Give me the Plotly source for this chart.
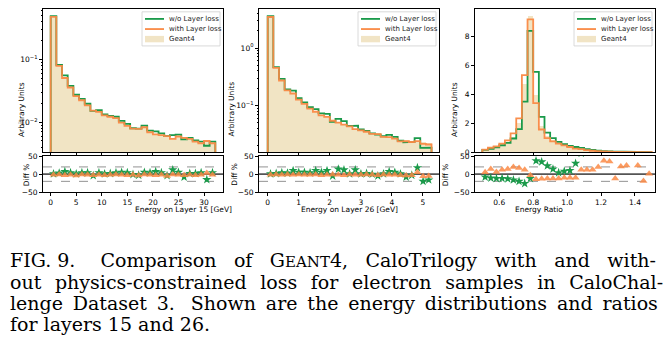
import numpy as np
import plotly.graph_objects as go

# ---------------- data ----------------
# Panel 1: energy on layer 15 [GeV]
l15_range = (0.0, 32.2)
l15_geant = [0.49, 0.080, 0.0524, 0.0365, 0.0271, 0.0226, 0.0189, 0.0158, 0.0149, 0.0132,
             0.0124, 0.0117, 0.0100, 0.0090, 0.0081, 0.0081, 0.0084, 0.0070, 0.0066, 0.0063,
             0.0063, 0.0055, 0.0060, 0.0058, 0.0055, 0.0050, 0.0047, 0.0049, 0.0047]
l15_wo = [0.495, 0.0824, 0.0561, 0.0380, 0.0274, 0.0235, 0.0197, 0.0152, 0.0155, 0.0133,
          0.0126, 0.0122, 0.0105, 0.0094, 0.0080, 0.0079, 0.0088, 0.0073, 0.0071, 0.0066,
          0.0060, 0.0062, 0.0063, 0.0053, 0.0056, 0.0051, 0.0049, 0.0042, 0.0049]
l15_with = [0.480, 0.0792, 0.0508, 0.0358, 0.0260, 0.0224, 0.0185, 0.0153, 0.0146, 0.0128,
            0.0122, 0.0116, 0.0098, 0.0087, 0.0079, 0.0078, 0.0083, 0.0069, 0.0064, 0.0062,
            0.0060, 0.0054, 0.0059, 0.0056, 0.0054, 0.0049, 0.0046, 0.0050, 0.0046]
l15_diff_wo = [1, 3, 7, 4, 1, 4, 4, -4, 4, 1, 2, 4, 5, 4, -1, -3, 5, 4, 7, 4,
               -4, 12, 5, -8, 2, 2, 4, -15, 4]
l15_diff_with = [-2, -1, -3, -2, -4, -1, -2, -3, -2, -3, -2, -1, -2, -3, -2, -4, -1, -2, -3, -2,
                 -5, -1, -2, -3, -2, -3, -2, 3, -2]

# Panel 2: energy on layer 26 [GeV]
l26_range = (0.0, 5.28)
l26_geant = [3.53, 0.458, 0.279, 0.185, 0.165, 0.128, 0.109, 0.090, 0.079, 0.0695,
             0.065, 0.055, 0.0515, 0.048, 0.044, 0.0398, 0.038, 0.0355, 0.033, 0.033,
             0.029, 0.029, 0.0272, 0.0245, 0.025, 0.024, 0.023, 0.023, 0.0222]
l26_wo = [3.565, 0.467, 0.290, 0.191, 0.182, 0.134, 0.114, 0.0936, 0.0869, 0.0730,
          0.0715, 0.0523, 0.0587, 0.0538, 0.0444, 0.0446, 0.0384, 0.0362, 0.0330, 0.0314,
          0.0293, 0.0310, 0.0286, 0.0247, 0.0230, 0.0233, 0.0271, 0.0184, 0.0186]
l26_with = [3.46, 0.453, 0.273, 0.183, 0.162, 0.127, 0.107, 0.0882, 0.0782, 0.0674,
            0.0637, 0.0545, 0.0505, 0.0466, 0.0436, 0.0390, 0.0372, 0.0351, 0.0323, 0.0320,
            0.0287, 0.0284, 0.0267, 0.0238, 0.0240, 0.0233, 0.0242, 0.0216, 0.0211]
l26_diff_wo = [1, 2, 4, 3, 10, 5, 5, 4, 10, 5, 10, -5, 14, 12, 1, 12, 1, 2, 0, -5,
               1, 7, 5, 1, -8, -3, 18, -20, -16]
l26_diff_with = [-2, -1, -2, -1, -2, -1, -2, -2, -1, -3, -2, -1, -2, -3, -1, -2, -2, -1, -2, -3,
                 -1, -2, -2, -3, -4, -3, 5, -6, -5]

# Panel 3: energy ratio
ratio_range = (0.5, 1.5)
ratio_geant = [0.17, 0.27, 0.38, 0.53, 0.72, 1.08, 2.0, 4.75, 9.45, 4.0,
               1.8, 1.1, 0.85, 0.68, 0.52, 0.40, 0.28, 0.19, 0.13, 0.09,
               0.06, 0.04, 0.03, 0.025, 0.018, 0.014, 0.010, 0.008, 0.006, 0.005]
ratio_wo = [0.16, 0.24, 0.34, 0.48, 0.65, 0.95, 1.6, 3.5, 8.4, 5.56,
            2.45, 1.35, 0.97, 0.71, 0.56, 0.44, 0.36, 0.30, 0.22, 0.16,
            0.11, 0.08, 0.06, 0.045, 0.035, 0.03, 0.02, 0.015, 0.012, 0.01]
ratio_with = [0.18, 0.31, 0.40, 0.59, 0.82, 1.3, 2.34, 5.33, 9.2, 3.4,
              1.57, 0.97, 0.75, 0.6, 0.47, 0.36, 0.25, 0.21, 0.145, 0.10,
              0.072, 0.055, 0.04, 0.022, 0.022, 0.017, 0.02, 0.010, 0.005, 0.005]
ratio_diff_wo = [-8, -11, -12, -12, -13, -16, -20, -26, -12, 37, 34, 23, 14, 4, 8, 10, 30,
                 58, 69, 78, 83, 100, 100, 80, 94, 114, 100, 88, 100, 100]
ratio_diff_with = [5, 14, 6, 12, 14, 20, 17, 12, -3, -14, -13, -12, -12, -12, -10, -10, -10,
                   12, 12, 12, 20, 37, 35, -12, 21, 24, 100, 24, -19, 1]

x_titles = ["Energy on Layer 15 [GeV]", "Energy on Layer 26 [GeV]", "Energy Ratio"]
legend_labels = ["w/o Layer loss", "with Layer loss", "Geant4"]

# ---------------- style ----------------
W, H = 670, 360
GREEN = "#1a9a4a"
ORANGE = "#fa8a45"
FILL = "#f1e4c5"
FONT = "DejaVu Sans"


def X(p):
    return p / W


def Y(p):
    return 1 - p / H


panels = [
    dict(left=43, rng=l15_range, g=l15_geant, wo=l15_wo, wi=l15_with, dwo=l15_diff_wo,
         dwi=l15_diff_with, log=True, yr=[-2.48, -0.19], xr=[-1.5, 33.7],
         xt=[0, 5, 10, 15, 20, 25, 30], ylab_x=15, dlab_x=20),
    dict(left=259, rng=l26_range, g=l26_geant, wo=l26_wo, wi=l26_with, dwo=l26_diff_wo,
         dwi=l26_diff_with, log=True, yr=[-1.81, 0.68], xr=[-0.28, 5.52],
         xt=[0, 1, 2, 3, 4, 5], ylab_x=232, dlab_x=235),
    dict(left=475, rng=ratio_range, g=ratio_geant, wo=ratio_wo, wi=ratio_with,
         dwo=ratio_diff_wo, dwi=ratio_diff_with, log=False, yr=[0, 9.92], xr=[0.457, 1.518],
         xt=[0.6, 0.8, 1.0, 1.2, 1.4], ylab_x=461, dlab_x=452),
]

UP = [Y(152), Y(5)]
LO = [Y(193), Y(156)]

fig = go.Figure()
shapes = []
annotations = []


def step_xy(edges, vals, base):
    xs, ys = [edges[0]], [base]
    for i, v in enumerate(vals):
        xs += [edges[i], edges[i + 1]]
        ys += [v, v]
    xs.append(edges[-1])
    ys.append(base)
    return xs, ys


axis_common = dict(showline=True, linecolor="black", linewidth=1, mirror=True,
                   ticks="outside", ticklen=3, tickwidth=1, tickcolor="black",
                   showgrid=False, zeroline=False,
                   tickfont=dict(family=FONT, size=7.5, color="black"))

for k, p in enumerate(panels):
    n = k + 1
    xu, yu = ("x" if n == 1 else f"x{n}"), ("y" if n == 1 else f"y{n}")
    xl, yl = f"x{n + 3}", f"y{n + 3}"
    nb = len(p["g"])
    edges = np.linspace(p["rng"][0], p["rng"][1], nb + 1)
    centers = 0.5 * (edges[:-1] + edges[1:])
    width = edges[1] - edges[0]
    base = 1e-6 if p["log"] else 0

    fig.add_trace(go.Bar(x=centers, y=p["g"], width=width, xaxis=xu, yaxis=yu,
                         marker=dict(color=FILL, line=dict(width=0)),
                         showlegend=False, name="Geant4"))
    sx, sy = step_xy(edges, p["wo"], base)
    fig.add_trace(go.Scatter(x=sx, y=sy, mode="lines", xaxis=xu, yaxis=yu,
                             line=dict(color=GREEN, width=1.8), showlegend=False,
                             name="w/o Layer loss"))
    sx, sy = step_xy(edges, p["wi"], base)
    fig.add_trace(go.Scatter(x=sx, y=sy, mode="lines", xaxis=xu, yaxis=yu,
                             line=dict(color=ORANGE, width=1.8), opacity=0.95,
                             showlegend=False, name="with Layer loss"))

    # diff panel
    fig.add_trace(go.Scatter(x=centers, y=p["dwo"], mode="markers", xaxis=xl, yaxis=yl,
                             marker=dict(symbol="star", size=7, color=GREEN, line=dict(width=0)),
                             showlegend=False))
    fig.add_trace(go.Scatter(x=centers, y=p["dwi"], mode="markers", xaxis=xl, yaxis=yl,
                             marker=dict(symbol="triangle-up", size=7, color=ORANGE,
                                         opacity=0.85, line=dict(width=0)),
                             showlegend=False))

    xdom = [X(p["left"]), X(p["left"] + 180)]
    xa_name = "xaxis" if n == 1 else f"xaxis{n}"
    ya_name = "yaxis" if n == 1 else f"yaxis{n}"

    upper_y = dict(axis_common, domain=UP, anchor=xu)
    if p["log"]:
        lo_e, hi_e = int(np.floor(p["yr"][0])), int(np.ceil(p["yr"][1]))
        major = [10.0 ** e for e in range(lo_e, hi_e + 1)]
        minor = [m * 10.0 ** e for e in range(lo_e, hi_e + 1) for m in range(2, 10)]
        upper_y.update(type="log", range=p["yr"], tickvals=major,
                       ticktext=[f"10<sup>−{-e}</sup>" if e < 0 else f"10<sup>{e}</sup>"
                                 for e in range(lo_e, hi_e + 1)],
                       minor=dict(tickvals=minor, ticks="outside", ticklen=1.5,
                                  tickcolor="black", showgrid=False))
    else:
        upper_y.update(range=p["yr"], tickvals=[0, 2, 4, 6, 8])

    fig.update_layout(**{
        xa_name: dict(axis_common, domain=xdom, anchor=yu, range=p["xr"], tickvals=p["xt"],
                      showticklabels=False),
        ya_name: upper_y,
        f"xaxis{n + 3}": dict(axis_common, domain=xdom, anchor=yl, range=p["xr"],
                              tickvals=p["xt"], ticklabelstandoff=0,
                              tickformat=".1f" if not p["log"] else None),
        f"yaxis{n + 3}": dict(axis_common, domain=LO, anchor=xl, range=[-50, 50],
                              tickvals=[-50, 0, 50]),
    })

    # reference lines in diff panel
    shapes.append(dict(type="line", xref=f"{xl} domain", yref=yl, x0=0, x1=1, y0=0, y1=0,
                       line=dict(color="#555555", width=1.6), layer="below"))
    for yv in (20, -20):
        shapes.append(dict(type="line", xref=f"{xl} domain", yref=yl, x0=0, x1=1, y0=yv, y1=yv,
                           line=dict(color="#777777", width=0.8, dash="dash"), layer="below"))

    # axis titles
    annotations.append(dict(x=X(p["ylab_x"]), y=Y(78), xref="paper", yref="paper",
                            text="Arbitrary Units", textangle=-90, showarrow=False,
                            font=dict(family=FONT, size=7.5, color="black")))
    annotations.append(dict(x=X(p["dlab_x"]), y=Y(175), xref="paper", yref="paper",
                            text="Diff %", textangle=-90, showarrow=False,
                            font=dict(family=FONT, size=7.5, color="black")))
    annotations.append(dict(x=X(p["left"] + 90), y=Y(210.5), xref="paper", yref="paper",
                            text=x_titles[k], showarrow=False,
                            font=dict(family=FONT, size=7.5, color="black")))

    # legend box (drawn)
    L = p["left"]
    shapes.append(dict(type="rect", xref="paper", yref="paper",
                       x0=X(L + 99), x1=X(L + 177), y0=Y(43), y1=Y(8),
                       line=dict(color="#d0d0d0", width=0.8), fillcolor="rgba(255,255,255,0.8)"))
    for row, (col, yy) in enumerate([(GREEN, 15.3), (ORANGE, 25.7)]):
        shapes.append(dict(type="line", xref="paper", yref="paper",
                           x0=X(L + 102), x1=X(L + 121), y0=Y(yy), y1=Y(yy),
                           line=dict(color=col, width=1.8)))
    shapes.append(dict(type="rect", xref="paper", yref="paper",
                       x0=X(L + 102), x1=X(L + 121), y0=Y(39.3), y1=Y(32.7),
                       line=dict(width=0), fillcolor=FILL))
    for lab, yy in zip(legend_labels, [15.3, 25.7, 36.0]):
        annotations.append(dict(x=X(L + 123.5), y=Y(yy), xref="paper", yref="paper",
                                xanchor="left", yanchor="middle", text=lab, showarrow=False,
                                font=dict(family=FONT, size=7, color="#222222")))

# caption (justified by widening inter-word gaps)
T = "\u2009"


def justify(words, extra):
    return (" " + extra).join(words)


caption_lines = [
    "FIG. 9.\u2003 " + justify(["Comparison", "of", "G<span style=\"font-size:15px\">EANT</span>4,",
                                "CaloTrilogy", "with", "and", "with-"], T * 3),
    justify(["out", "physics-constrained", "loss", "for", "electron", "samples", "in",
             "CaloChal-"], T * 2),
    justify(["lenge", "Dataset", "3. ", "Shown", "are", "the", "energy", "distributions",
             "and", "ratios"], T),
    "for layers 15 and 26.",
]
for line, yy in zip(caption_lines, [263, 285, 306.5, 328]):
    annotations.append(dict(x=X(8), y=Y(yy), xref="paper", yref="paper", xanchor="left",
                            yanchor="middle", text=line, showarrow=False,
                            font=dict(family="DejaVu Serif", size=19, color="black")))

fig.update_layout(width=W, height=H, margin=dict(l=0, r=0, t=0, b=0),
                  paper_bgcolor="white", plot_bgcolor="white", showlegend=False,
                  bargap=0, shapes=shapes, annotations=annotations)

fig.write_html("out.html")
